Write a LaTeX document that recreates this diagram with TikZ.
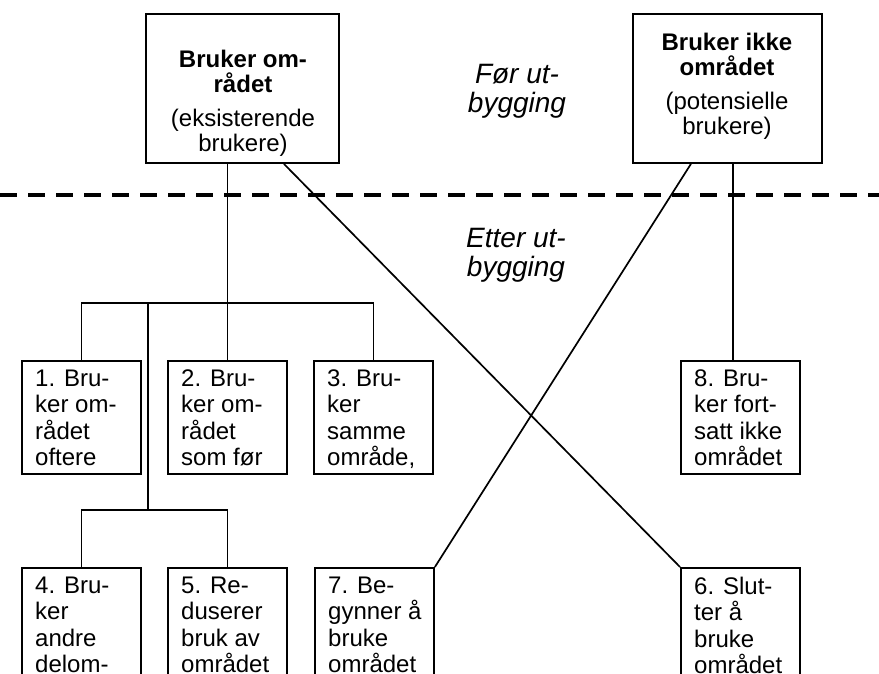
\documentclass[tikz,border=0pt]{standalone}
\usepackage{fontspec}
\setmainfont{Liberation Sans}
\usetikzlibrary{calc}
\tikzset{
  frame/.style={draw, line width=1.9pt, anchor=north west, inner sep=0pt},
  cell/.style={frame, minimum width=119pt, minimum height=113pt},
  celltext/.style={anchor=north west, align=left, inner sep=0pt,
    font=\fontsize{24}{26.5}\selectfont},
  head/.style={frame, minimum width=193pt, minimum height=149pt},
  headtext/.style={anchor=north, align=center, inner sep=0pt,
    font=\fontsize{24}{25.5}\selectfont},
  phase/.style={anchor=north, align=center, inner sep=0pt,
    font=\fontsize{28}{29}\selectfont\itshape},
  link/.style={line width=1.7pt},
}
\begin{document}
\begin{tikzpicture}[x=1pt,y=-1pt]
\clip (0,0) rectangle (879,674);
% before
\node[head] (top1) at (145,13) {};
\node[head, minimum width=189pt] (top2) at (632,13) {};
\node[headtext] (top1-t) at (243,49.5)
  {\textbf{Bruker om-}\\\textbf{rådet}\\[8pt](eksisterende\\brukere)};
\node[headtext] (top2-t) at (727,32.5)
  {\textbf{Bruker ikke}\\\textbf{området}\\[8pt](potensielle\\brukere)};
\node[phase] (before) at (517,64.5) {Før ut-\\bygging};
\draw[line width=3.5pt, dash pattern=on 17pt off 11pt] (0,195) -- (879,195);
% after
\node[phase] (after) at (516,228) {Etter ut-\\bygging};
\foreach \n/\x/\y/\txt in {
  b1/21/360/{1. Bru-\\ker om-\\rådet\\oftere},
  b2/167/360/{2. Bru-\\ker om-\\rådet\\som før},
  b3/313/360/{3. Bru-\\ker\\samme\\område,},
  b8/680/360/{8. Bru-\\ker fort-\\satt ikke\\området},
  b4/21/567/{4. Bru-\\ker\\andre\\delom-},
  b5/167/567/{5. Re-\\duserer\\bruk av\\området},
  b7/314/567/{7. Be-\\gynner å\\bruke\\området},
  b6/680/567/{6. Slut-\\ter å\\bruke\\området}}
{ \node[cell] (\n) at (\x,\y) {};
  \node[celltext] (\n-t) at ([shift={(14pt,-9.5pt)}]\n.north west) {\txt};
}
\coordinate (split) at (b2.north |- 0,303);
\coordinate (split2) at (148,510);
\draw[link] (top1.south -| b2.north) -- (b2.north);
\draw[link] (b1.north) |- (split) -| (b3.north);
\draw[link] (split2 |- split) -- (split2);
\draw[link] (b4.north) |- (split2) -| (b5.north);
\draw[link] ([xshift=5.5pt]top2.south) -- ([xshift=5.5pt]top2.south |- b8.north);
\draw[link] ([xshift=41.5pt]top1.south) -- (b6.north west);
\draw[link] ([xshift=-36.5pt]top2.south) -- (b7.north east);
\end{tikzpicture}
\end{document}
